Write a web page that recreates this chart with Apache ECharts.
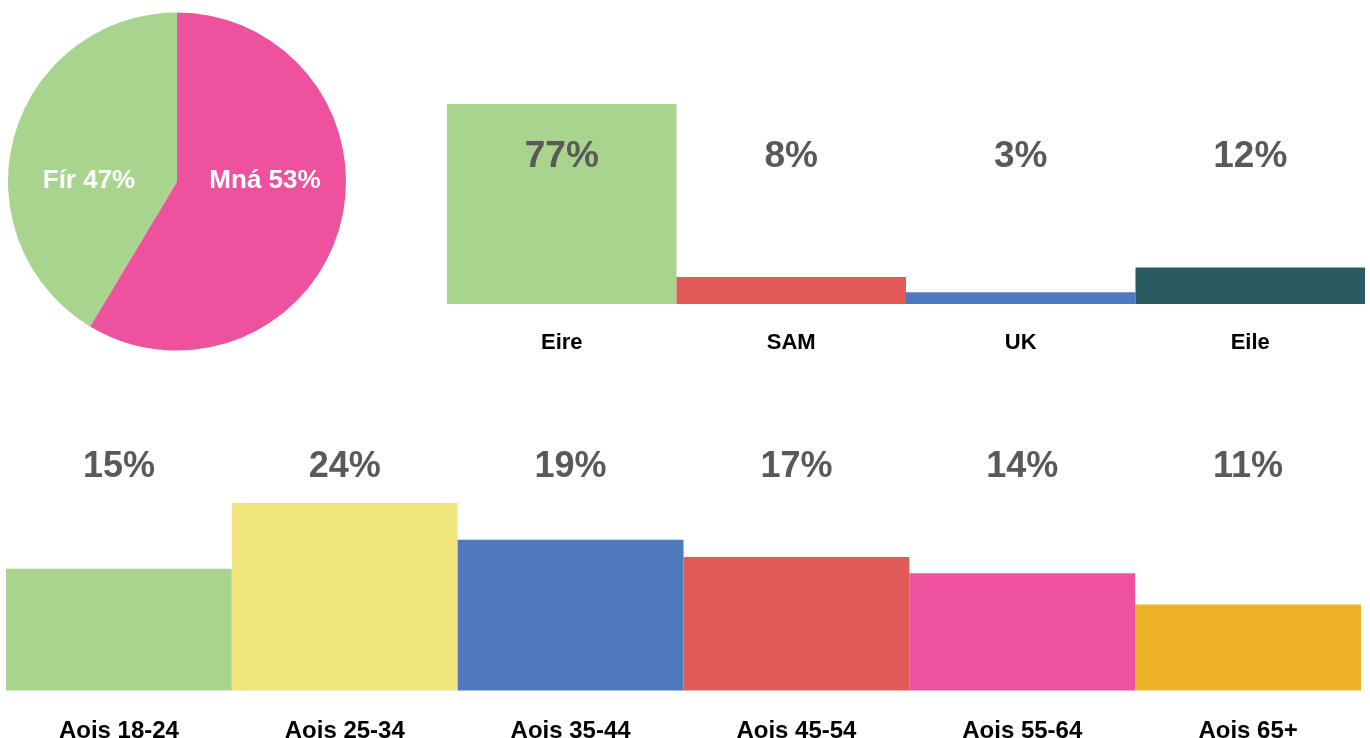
<!DOCTYPE html>
<html>
<head>
<meta charset="utf-8">
<title>Profile</title>
<script src="https://cdn.jsdelivr.net/npm/echarts@6/dist/echarts.min.js"></script>
<style>
  html, body { margin: 0; padding: 0; background: #fff; }
  #chart { width: 1370px; height: 738px; }
</style>
</head>
<body>
<div id="chart"></div>
<script>
// gender pie (slice sizes as drawn, labels as printed)
var genderNames = ['Mná', 'Fír'];
var genderValues = [58.6, 41.4];
var genderLabels = ['Mná 53%', 'Fír 47%'];

// origin bars
var originCats = ['Eire', 'SAM', 'UK', 'Eile'];
var originValues = [77, 10.4, 4.5, 14.1];
var originLabels = ['77%', '8%', '3%', '12%'];

// age bars
var ageCats = ['Aois 18-24', 'Aois 25-34', 'Aois 35-44', 'Aois 45-54', 'Aois 55-64', 'Aois 65+'];
var ageValues = [15.6, 24, 19.3, 17.1, 15.0, 11.0];
var ageLabels = ['15%', '24%', '19%', '17%', '14%', '11%'];

var genderColors = ['#ee529e', '#a9d48e'];
var originColors = ['#a9d48e', '#e25a58', '#4f79bd', '#2b5a60'];
var ageColors = ['#a9d48e', '#f1e67c', '#4f79bd', '#e25a58', '#ee529e', '#ecb22a'];

var FONT = "'Liberation Sans', Arial, sans-serif";
var pieCenter = [177, 181.5];
var pieLabelX = [265, 89];

var chart = echarts.init(document.getElementById('chart'));

function plainAxis(extra) {
  var base = {
    type: 'category',
    z: 10,
    axisLine: { show: false },
    axisTick: { show: false },
    splitLine: { show: false }
  };
  return Object.assign(base, extra);
}

var option = {
  animation: false,
  backgroundColor: '#fff',
  grid: [
    { left: 447, right: 5, top: 104, bottom: 434, outerBoundsMode: 'none' },
    { left: 6, right: 9, top: 503, bottom: 47.5, outerBoundsMode: 'none' }
  ],
  xAxis: [
    plainAxis({
      gridIndex: 0, position: 'bottom', data: originCats,
      axisLabel: { interval: 0, margin: 39, verticalAlign: 'middle', color: '#000', fontFamily: FONT, fontWeight: 'bold', fontSize: 22 }
    }),
    plainAxis({
      gridIndex: 0, position: 'top', data: originLabels,
      axisLabel: { interval: 0, margin: -53, verticalAlign: 'middle', color: '#595959', fontFamily: FONT, fontWeight: 'bold', fontSize: 37 }
    }),
    plainAxis({
      gridIndex: 1, position: 'bottom', data: ageCats,
      axisLabel: { interval: 0, margin: 40.5, verticalAlign: 'middle', color: '#000', fontFamily: FONT, fontWeight: 'bold', fontSize: 24 }
    }),
    plainAxis({
      gridIndex: 1, position: 'top', data: ageLabels,
      axisLabel: { interval: 0, margin: 36, verticalAlign: 'middle', color: '#595959', fontFamily: FONT, fontWeight: 'bold', fontSize: 36 }
    })
  ],
  yAxis: [
    { type: 'value', gridIndex: 0, min: 0, max: 77, show: false },
    { type: 'value', gridIndex: 1, min: 0, max: 24, show: false }
  ],
  series: [
    {
      type: 'pie',
      center: pieCenter,
      radius: 169,
      startAngle: 90,
      clockwise: true,
      silent: true,
      data: genderNames.map(function (n, i) {
        return { name: n, value: genderValues[i], itemStyle: { color: genderColors[i] } };
      }),
      label: {
        position: 'inside',
        formatter: function (p) { return genderLabels[p.dataIndex]; },
        color: '#fff',
        fontFamily: FONT,
        fontWeight: 'bold',
        fontSize: 26
      },
      labelLine: { show: false },
      labelLayout: function (p) {
        return { x: pieLabelX[p.dataIndex], y: 181, align: 'center', verticalAlign: 'middle' };
      }
    },
    {
      type: 'bar',
      xAxisIndex: 0,
      yAxisIndex: 0,
      z: 1,
      barCategoryGap: '0%',
      silent: true,
      data: originValues.map(function (v, i) {
        return { value: v, itemStyle: { color: originColors[i] } };
      })
    },
    {
      type: 'bar',
      xAxisIndex: 2,
      yAxisIndex: 1,
      z: 1,
      barCategoryGap: '0%',
      silent: true,
      data: ageValues.map(function (v, i) {
        return { value: v, itemStyle: { color: ageColors[i] } };
      })
    }
  ]
};

chart.setOption(option);
</script>
</body>
</html>
